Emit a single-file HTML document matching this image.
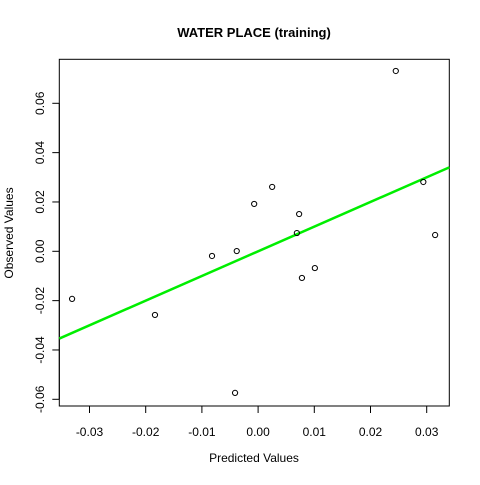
<!DOCTYPE html>
<html><head><meta charset="utf-8"><style>
html,body{margin:0;padding:0;background:#fff}
svg text{font-family:"Liberation Sans",Arial,sans-serif;fill:#000}
</style></head><body>
<svg id="chart" width="480" height="480">
<rect x="0" y="0" width="480" height="480" fill="#fff"/>
<text x="254" y="37" text-anchor="middle" font-size="13" font-weight="bold">WATER PLACE (training)</text>
<text x="254" y="462" text-anchor="middle" font-size="12">Predicted Values</text>
<text transform="translate(13,233) rotate(-90)" text-anchor="middle" font-size="12">Observed Values</text>
<rect x="59.3" y="59.3" width="390" height="346.7" fill="none" stroke="#000" stroke-width="1"/>
<g id="xaxis"></g>
<g id="yaxis"></g>
<g id="fit"></g>
<g id="pts"></g>
</svg>
<script>
const predicted = [-0.0331,-0.01835,-0.0082,-0.0038,-0.0007,0.0025,-0.0041,0.0073,0.0069,0.0078,0.0101,0.0245,0.0294,0.0315];
const observed  = [-0.0193,-0.0258,-0.0019,0.0001,0.0192,0.0261,-0.0574,0.0151,0.0074,-0.0108,-0.0068,0.0731,0.0281,0.0066];
const xTicks = [-0.03,-0.02,-0.01,0.00,0.01,0.02,0.03];
const xTickLabels = ["-0.03","-0.02","-0.01","0.00","0.01","0.02","0.03"];
const yTicks = [-0.06,-0.04,-0.02,0.00,0.02,0.04,0.06];
const yTickLabels = ["-0.06","-0.04","-0.02","0.00","0.02","0.04","0.06"];
const fitCoef = [0.0000, 1.0];
const NS="http://www.w3.org/2000/svg";
const X0=59.3,X1=449.3,Y0=59.3,Y1=406;
function sx(v){return 258.1+v*5620;}
function sy(v){return 251.3-v*2466.7;}
function mk(t,a,p){const e=document.createElementNS(NS,t);for(const k in a)e.setAttribute(k,a[k]);p.appendChild(e);return e;}
const xa=document.getElementById('xaxis');
mk('line',{x1:sx(xTicks[0]),x2:sx(xTicks[xTicks.length-1]),y1:Y1,y2:Y1,stroke:'#000'},xa);
xTicks.forEach((v,i)=>{
  const l=mk('line',{x1:sx(v),x2:sx(v),y1:Y1,y2:Y1+7,stroke:'#000'},xa);
  
  
  const t=mk('text',{x:sx(v),y:436,'text-anchor':'middle','font-size':12},xa);
  t.textContent=xTickLabels[i];
  
  
});
const ya=document.getElementById('yaxis');
mk('line',{x1:X0,x2:X0,y1:sy(yTicks[0]),y2:sy(yTicks[yTicks.length-1]),stroke:'#000'},ya);
yTicks.forEach((v,i)=>{
  const l=mk('line',{x1:X0-7,x2:X0,y1:sy(v),y2:sy(v),stroke:'#000'},ya);
  
  
  const t=mk('text',{transform:`translate(44,${sy(v)}) rotate(-90)`,'text-anchor':'middle','font-size':12},ya);
  t.textContent=yTickLabels[i];
  
  
});
const xmin=(X0-258.1)/5620,xmax=(X1-258.1)/5620;
const fl=mk('line',{x1:X0,y1:sy(fitCoef[0]+fitCoef[1]*xmin),x2:X1,y2:sy(fitCoef[0]+fitCoef[1]*xmax),stroke:'#00ee00','stroke-width':2.5},document.getElementById('fit'));


const pg=document.getElementById('pts');
predicted.forEach((p,i)=>{
  const c=mk('circle',{cx:sx(p),cy:sy(observed[i]),r:2.6,fill:'none',stroke:'#000','stroke-width':1},pg);
  
  
});
</script>
</body></html>
